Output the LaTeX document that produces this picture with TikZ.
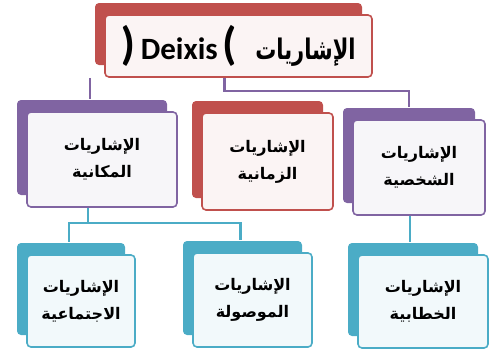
\documentclass[tikz,border=0pt]{standalone}
\usepackage{graphicx}
\usepackage{fontspec}
\newfontfamily\arabicfont[Script=Arabic]{DejaVu Sans}
\newfontfamily\latinfont{Carlito}
\TeXXeTstate=1
\usetikzlibrary{shadows,backgrounds}

\definecolor{deixred}{HTML}{C0504D}
\definecolor{deixpurple}{HTML}{8064A2}
\definecolor{deixteal}{HTML}{4BACC6}

\newcommand{\bigparen}{\bfseries\fontsize{46}{46}\selectfont(}

\tikzset{
  card/.style={rectangle, rounded corners=4pt, line width=1.6pt, align=center,
    inner sep=0pt, text=black,
    font=\arabicfont\bfseries\fontsize{16}{27}\selectfont},
  redcard/.style={card, draw=deixred, fill=deixred!6,
    general shadow={fill=deixred, shadow xshift=-10pt, shadow yshift=12pt}},
  purplecard/.style={card, draw=deixpurple, fill=deixpurple!6,
    general shadow={fill=deixpurple, shadow xshift=-10pt, shadow yshift=12pt}},
  tealcard/.style={card, draw=deixteal, fill=deixteal!7,
    general shadow={fill=deixteal, shadow xshift=-10pt, shadow yshift=12pt}},
  purpleline/.style={draw=deixpurple, line width=2.2pt},
  tealline/.style={draw=deixteal, line width=2.2pt},
}

\begin{document}
\begin{tikzpicture}[x=1pt, y=-1pt]
  \useasboundingbox (0,0) rectangle (489,356);

  % --- top ---
  \node[redcard, minimum width=267pt, minimum height=62pt] (deixis) at (238.5,46)
    {\beginL\latinfont\fontsize{31}{31}\selectfont
      \scalebox{-1}[1]{\bigparen}\,Deixis\,{\bigparen}\endL
      \hspace{18pt}%
      \scalebox{1}[1.35]{\arabicfont\bfseries\fontsize{21}{21}\selectfont\beginR الإشاريات\endR}};

  % --- second row ---
  \node[purplecard, minimum width=150pt, minimum height=95pt] (makan) at (102,159.5)
    {\beginR الإشاريات\endR\\\beginR المكانية\endR};
  \node[redcard, minimum width=131pt, minimum height=97pt] (zaman) at (267.5,161.5)
    {\beginR الإشاريات\endR\\\beginR الزمانية\endR};
  \node[purplecard, minimum width=132pt, minimum height=95pt] (shakhs) at (419,167.5)
    {\beginR الإشاريات\endR\\\beginR الشخصية\endR};

  % --- third row ---
  \node[tealcard, minimum width=108pt, minimum height=92pt] (ijtima) at (81,301)
    {\beginR الإشاريات\endR\\\beginR الاجتماعية\endR};
  \node[tealcard, minimum width=119pt, minimum height=94pt] (mawsul) at (252.5,300)
    {\beginR الإشاريات\endR\\\beginR الموصولة\endR};
  \node[tealcard, minimum width=130pt, minimum height=93pt] (khitab) at (423,301.5)
    {\beginR الإشاريات\endR\\\beginR الخطابية\endR};

  % --- connectors ---
  \begin{scope}[on background layer]
    \draw[purpleline] ([xshift=-12pt]deixis.south -| makan.north)
      -- ([xshift=-12pt, yshift=12pt]makan.north);
    \draw[purpleline] ([xshift=-14pt]deixis.south) -- ++(0,13)
      -| ([xshift=-10pt, yshift=12pt]shakhs.north);
    \draw[tealline] ([xshift=-14pt]makan.south) -- ++(0,15) coordinate (fork)
      -| ([xshift=-12pt, yshift=12pt]ijtima.north);
    \draw[tealline] (fork) -| ([xshift=-12pt, yshift=12pt]mawsul.north);
    \draw[tealline] ([xshift=-9pt]shakhs.south)
      -- ([xshift=-9pt, yshift=12pt]shakhs.south |- khitab.north);
  \end{scope}

\end{tikzpicture}
\end{document}
